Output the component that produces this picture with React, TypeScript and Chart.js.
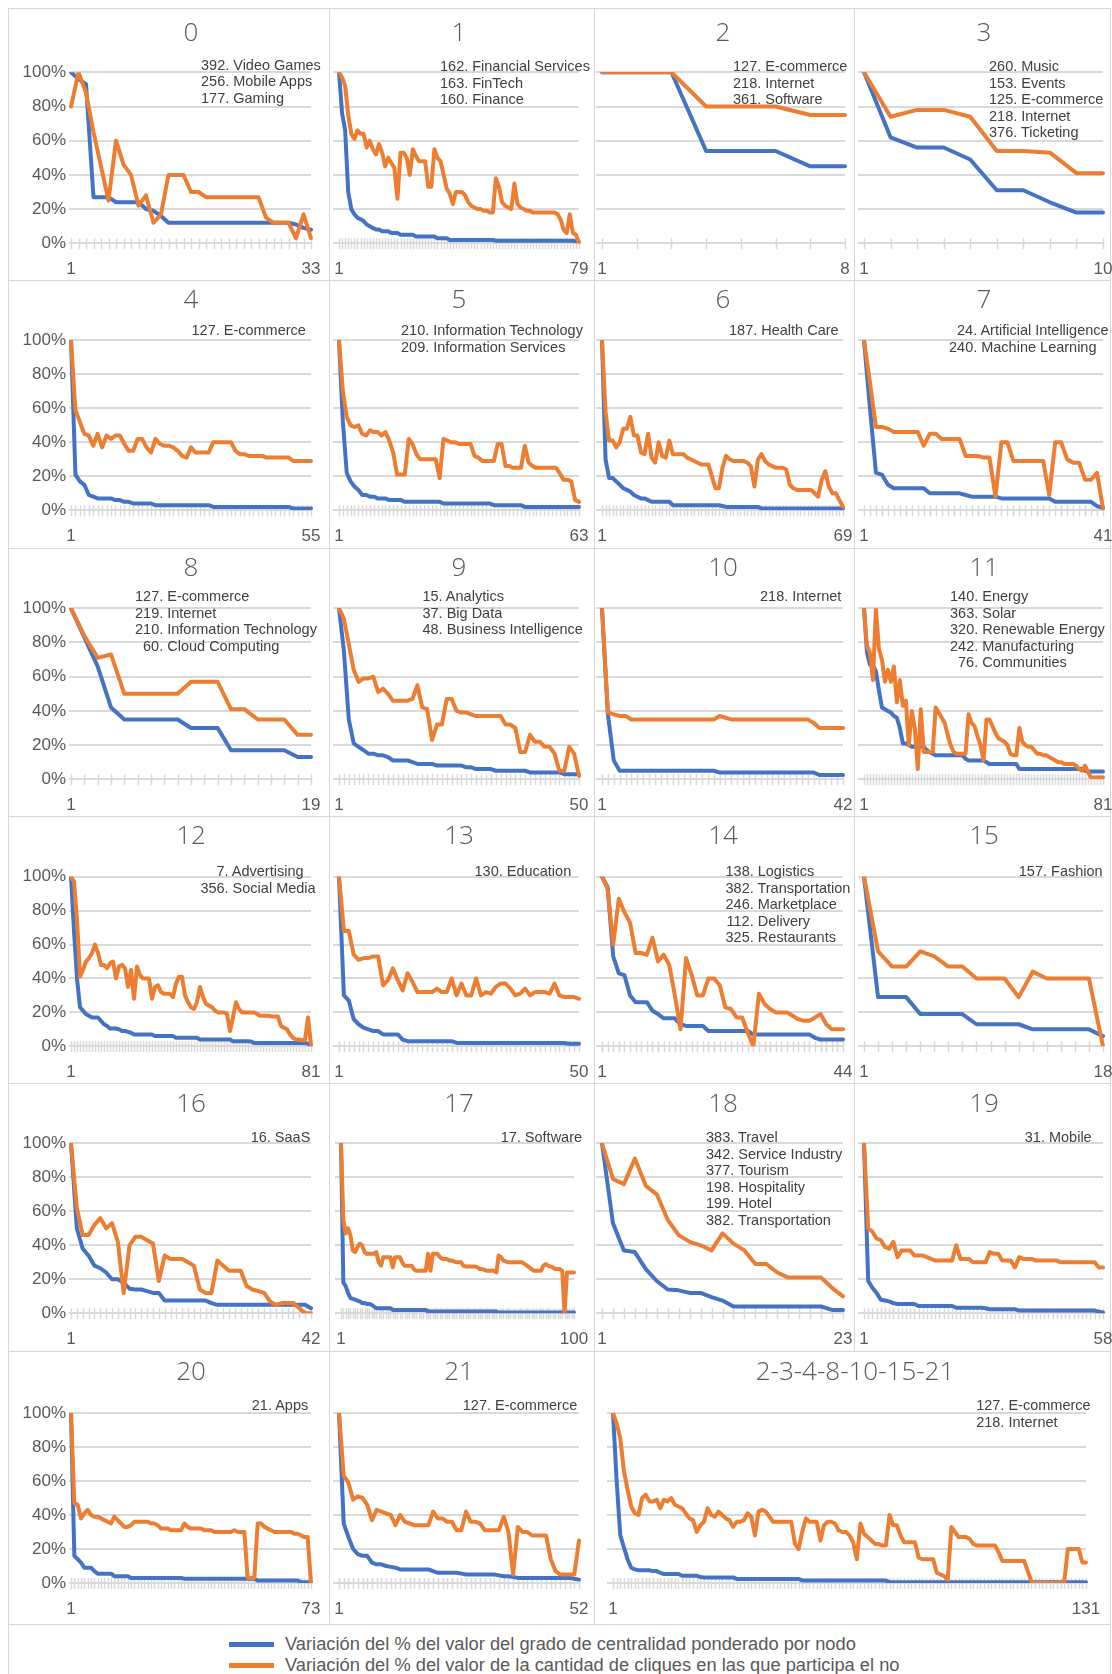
import React, { useEffect, useRef } from "react";
import { Chart, registerables } from "chart.js";
Chart.register(...registerables);

const BLUE = "#4472C4";
const ORANGE = "#ED7D31";
const GRID = "#D9D9D9";
const TEXT = "#595959";
const TAG_TEXT = "#404040";
const FONT = "'Liberation Sans', Arial, Helvetica, sans-serif";
const TITLE_FONT = "'Open Sans', 'Liberation Sans', sans-serif";

const yTickValues = [0, 20, 40, 60, 80, 100];

const legendLabels = [
  "Variación del % del valor del grado de centralidad ponderado por nodo",
  "Variación del % del valor de la cantidad de cliques en las que participa el no",
];

const panelTitles = [
  "0", "1", "2", "3", "4", "5", "6", "7", "8", "9", "10", "11",
  "12", "13", "14", "15", "16", "17", "18", "19", "20", "21", "2-3-4-8-10-15-21",
];

const panelTags = [
  ["392. Video Games", "256. Mobile Apps", "177. Gaming"],
  ["162. Financial Services", "163. FinTech", "160. Finance"],
  ["127. E-commerce", "218. Internet", "361. Software"],
  ["260. Music", "153. Events", "125. E-commerce", "218. Internet", "376. Ticketing"],
  ["127. E-commerce"],
  ["210. Information Technology", "209. Information Services"],
  ["187. Health Care"],
  ["24. Artificial Intelligence", "240. Machine Learning"],
  ["127. E-commerce", "219. Internet", "210. Information Technology", "60. Cloud Computing"],
  ["15. Analytics", "37. Big Data", "48. Business Intelligence"],
  ["218. Internet"],
  ["140. Energy", "363. Solar", "320. Renewable Energy", "242. Manufacturing", "76. Communities"],
  ["7. Advertising", "356. Social Media"],
  ["130. Education"],
  ["138. Logistics", "382. Transportation", "246. Marketplace", "112. Delivery", "325. Restaurants"],
  ["157. Fashion"],
  ["16. SaaS"],
  ["17. Software"],
  ["383. Travel", "342. Service Industry", "377. Tourism", "198. Hospitality", "199. Hotel", "382. Transportation"],
  ["31. Mobile"],
  ["21. Apps"],
  ["127. E-commerce"],
  ["127. E-commerce", "218. Internet"],
];

// ---- series values (percent) ----
const blue0 = [100,96,93,27,27,27,24,24,24,24,20,19,16,12,12,12,12,12,12,12,12,12,12,12,12,12,12,12,12,12,11,9,8];
const orange0 = [80,100,88,65,45,25,60,46,40,22,28,12,17,40,40,40,30,30,27,27,27,27,27,27,27,27,15,12,12,12,3,17,3];

const blue1 = [100,76,66,30,20,17,15,14,13,11,
  10,9,8,8,7,7,7,6,6,6,
  5,5,5,5,5,4,4,4,4,4,
  4,4,3,3,3,3,2,2,2,2,
  2,2,2,2,2,2,2,2,2,2,
  2,1.5,1.5,1.5,1.5,1.5,1.5,1.5,1.5,1.5,
  1.5,1.5,1.5,1.5,1.5,1.5,1.5,1.5,1.5,1.5,
  1.5,1.5,1.5,1.5,1.5,1.5,1.5,1,0.5];
const orange1 = [100,97,92,75,64,61,66,64,64,56,
  60,55,52,58,53,45,50,47,44,26,
  53,53,50,40,55,51,48,48,48,33,
  33,55,50,48,40,32,29,23,30,30,
  30,28,24,22,21,20,20,19,19,18,
  18,38,33,24,22,21,20,35,23,21,
  20,19,19,18,18,18,18,18,18,18,
  18,17,14,8,6,17,6,5,0];

const blue2 = [100,100,100,54,54,54,45,45];
const orange2 = [100,100,100,80,80,80,75,75];

const blue3 = [100,62,56,56,49,31,31,24,18,18];
const orange3 = [100,74,78,78,74,54,54,53,41,41];

const blue4 = [100,21,17,15,9,8,7,7,7,7,
  6,6,5,5,4,4,4,4,4,3,
  3,3,3,3,3,3,3,3,3,3,
  3,3,2,2,2,2,2,2,2,2,
  2,2,2,2,2,2,2,2,2,2,
  1,1,1,1,1];
const orange4 = [100,59,52,45,44,38,45,37,44,42,
  44,44,39,35,35,42,42,37,34,42,
  39,38,38,37,35,32,31,37,34,34,
  34,34,40,40,40,40,40,35,33,33,
  32,32,32,32,31,31,31,31,31,31,
  29,29,29,29,29];

const blue5 = [100,52,22,17,14,12,9,9,8,8,
  7,7,7,6,6,6,6,5,5,5,
  5,5,5,5,5,5,5,4,4,4,
  4,4,4,4,4,4,4,4,4,4,
  3,3,3,3,3,3,3,3,2,2,
  2,2,2,2,2,2,2,2,2,2,
  2,2,2];
const orange5 = [100,70,55,50,49,50,45,44,47,46,
  46,44,46,41,34,21,21,21,42,39,
  33,30,30,30,30,30,19,42,41,40,
  40,39,39,39,39,32,31,29,29,29,
  29,39,39,26,26,25,25,25,38,28,
  26,25,25,25,25,25,25,22,18,18,
  17,6,5];

const blue6 = [100,30,19,19,17,15,13,12,11,9,
  8,7,7,6,5,5,5,5,5,5,
  3,3,3,3,3,3,3,3,3,3,
  3,3,3,3,2.5,2,2,2,2,2,
  2,2,2,2,2,1,1,1,1,1,
  1,1,1,1,1,1,1,1,1,1,
  1,1,1,1,1,1,1,1,1];
const orange6 = [100,58,41,41,37,40,48,48,55,44,
  44,34,33,45,31,28,40,32,31,41,
  33,33,33,33,31,30,29,28,27,27,
  27,20,13,13,25,32,30,29,29,29,
  29,28,26,14,30,33,29,27,26,25,
  25,25,24,15,13,12,12,12,12,12,
  10,8,18,23,14,10,10,6,2];

const blue7 = [100,60,22,21,15,13,13,13,13,13,
  13,10,10,10,10,10,10,9,8,8,
  8,8,8,7,7,7,7,7,7,7,
  7,7,5,5,5,5,5,5,5,2.5,
  1.5];
const orange7 = [100,75,49,49,48,46,46,46,46,46,
  38,45,45,42,42,42,42,32,32,32,
  31,31,8,40,40,29,29,29,29,29,
  29,9,40,40,30,28,28,18,18,22,
  1];

const blue8 = [100,83,66,42,35,35,35,35,35,30,30,30,17,17,17,17,17,13,13];
const orange8 = [100,84,71,73,50,50,50,50,50,57,57,57,41,41,35,35,35,26,26];

const blue9 = [100,75,35,21,19,17,15,15,14,14,
  13,11,11,11,11,10,9,9,9,9,
  8,8,8,8,8,8,7,7,6,6,
  6,6,5,5,5,5,5,5,5,4,
  4,4,4,4,4,4,3,3,3,3];
const orange9 = [100,94,79,64,57,59,59,60,51,53,
  50,46,46,46,46,47,55,42,41,23,
  32,32,47,47,40,39,39,38,37,37,
  37,37,37,37,32,32,30,16,16,26,
  22,22,19,19,15,5,5,19,15,2];

const blue10 = [100,38,11,5,5,5,5,5,5,5,
  5,5,5,5,5,5,5,5,5,5,
  4,4,4,4,4,4,4,4,4,4,
  4,4,4,4,4,4,4,2.5,2.5,2.5,
  2.5,2.5];
const orange10 = [100,39,38,37,37,35,35,35,35,35,
  35,35,35,35,35,35,35,35,35,35,
  37,36,35,35,35,35,35,35,35,35,
  35,35,35,35,35,35,33,30,30,30,
  30,30];

const blue11 = [100,74,67,67,63,52,42,41,40,39,
  37,36,30,21,21,20,19,19,19,19,
  19,17,16,15,14,14,14,14,14,14,
  14,14,14,14,12,11,11,11,11,11,
  11,10,9,9,9,9,9,9,9,9,
  9,9,6,6,6,6,6,6,6,6,
  6,6,6,6,6,6,6,6,6,6,
  6,6,6,6,5,4.5,4.5,4.5,4.5,4.5,
  4.5];
const orange11 = [100,78,74,58,100,76,70,57,64,57,
  66,45,58,43,46,20,40,30,6,41,
  16,16,16,16,42,39,36,33,26,20,
  16,15,15,15,15,38,33,31,25,20,
  11,35,35,31,27,24,23,22,20,15,
  14,14,30,22,20,19,19,17,15,15,
  14,14,13,12,11,10,10,9,9,9,
  9,8,6,5,8,4,1,1,1,1,
  1];

const blue12 = [100,68,40,23,21,19,18,17,17,17,
  15,13,12,10.5,10.5,10.5,10,9,9,8.5,
  8,7,7,7,7,7,7,7,6,6,
  6,6,6,6,6,5,5,5,5,5,
  5,5,5,4,4,4,4,4,4,4,
  4,4,4,4,3,3,3,3,3,3,
  2.8,2,2,2,2,2,2,2,2,2,
  2,2,2,2,2,2,2,2,2,1.5,
  0.5];
const orange12 = [100,97,75,41,45,50,52,55,60,55,
  48,48,46,49,50,40,47,48,46,35,
  45,28,47,42,40,40,40,28,35,36,
  32,31,31,31,29,37,41,41,30,26,
  23,22,26,35,29,25,24,23,21,20,
  20,20,19,9,17,26,22,20,20,20,
  20,20,19,18,18,18,18,17.5,17.5,17.5,
  12,11,10,7,5,4,4,3.5,3.5,17,
  1];

const blue13 = [100,30,27,16,13,11,10,9,9,7,
  7,7,7,4,3,3,3,3,3,3,
  3,3,3,3,2,2,2,2,2,2,
  2,2,2,2,2,2,2,2,2,2,
  2,2,2,2,2,2,2,1.5,1.5,1.5];
const orange13 = [100,68,68,54,51,52,52,53,53,36,
  39,46,39,33,43,38,32,32,32,32,
  34,32,32,40,30,37,30,30,40,30,
  32,31,35,37,37,34,30,31,34,30,
  32,32,32,31,37,30,29,29,29,28];

const blue14 = [100,94,53,43,42,30,26,26,26,21,
  19,16.5,16.5,16.5,13,12,12,12,12,9,
  9,9,9,9,9,9,9,7,7,7,
  7,7,7,7,7,7,7,7,5,4,
  4,4,4,4];
const orange14 = [100,93,60,87,79,73,55,55,54,64,
  50,54,48,30,10,52,42,30,30,40,
  40,36,23,22,17,17,8,0,31,25,
  22,20,20,20,18,16,15,15,17,19,
  13,10,10,10];

const blue15 = [100,29,29,29,19,19,19,19,13,13,13,13,10,10,10,10,10,6];
const orange15 = [100,56,47,47,56,53,47,47,40,40,40,29,44,40,40,40,40,0];

const blue16 = [100,50,38,34,28,26.5,24,20,20,18,
  14.5,14,14,13,12,12,7.5,7.5,7.5,7.5,
  7.5,7.5,7.5,7.5,6,5,5,5,5,5,
  5,5,5,5,5,5,5,5,5,5,
  5,3];
const orange16 = [100,62,46,46,52,56,50,53,42,12,
  40,45,45,43,41,19,34,32,32,32,
  30,28,14,12,12,31,28,25,25,25,
  16,14,13,12,7,5,6,6,6,3,
  0,0];

const blue17 = [100,18,16,12,9,8.5,8,7.5,7,6,
  6,5.5,5.5,5,4,3,3,3,3,3,
  3,3,2,2,2,2,2,2,2,2,
  2,2,2,2,2,2,2,1,1,1,
  1,1,1,1,1,1,1,1,1,1,
  1,1,1,1,1,1,1,1,1,1,
  1,1,1,1,1,1,1,0.5,0.5,0.5,
  0.5,0.5,0.5,0.5,0.5,0.5,0.5,0.5,0.5,0.5,
  0.5,0.5,0.5,0.5,0.5,0.5,0.5,0.5,0.5,0.5,
  0.5,0.5,0.5,0.5,0.5,0.5,0.5,0.5,0.5,0.5];
const orange17 = [100,55,47,50,46,37,36,39,41,40,
  36,35,35,35,35,36,30,28,33,33,
  33,33,27,33,33,33,30,28,28,28,
  28,26,25,25,25,25,25,35,25,35,
  35,35,33,32,32,32,31,31,30.5,30,
  30,30,28,27.5,27.5,27.5,27.5,27.5,27,26,
  26,25.5,25,25,25,25,24,34,33,31,
  30.5,30,30,30,30,30,30,30,29,28,
  27,26,25,25,25,25,28,29,28,27.5,
  27,26,26,26,25,0,24,24,24,24];

const blue18 = [100,53,37,36,26,19,14,13.5,12,12,9.5,7.5,4,4,4,4,4,4,4,4,4,2,2];
const orange18 = [100,79,76,91,75,70,55,46,42,40,37,47,41,37,29,29,24,21,21,21,21,15,10];

const blue19 = [100,19,15,12,8,7.5,7,6,5.5,5.5,
  5.5,5.5,5.5,4.3,4.3,4.3,4.3,4.3,4.3,4.3,
  4.3,4.3,3.3,3.3,3.3,3.3,3.3,3.3,3.3,3,
  2.4,2.4,2.4,2.4,2.4,2.4,2.4,1.6,1.6,1.6,
  1.6,1.6,1.6,1.6,1.6,1.6,1.6,1.6,1.6,1.6,
  1.6,1.6,1.6,1.6,1.6,1.6,1,0.5];
const orange19 = [100,50,48,44,43,39,38,42,33,37,
  37,37,34,34,34,33,32,31,31,31,
  31,31,40,32,32,32,30,30,30,30,
  36,35,35,31,31,31,27,33,32,32,
  32,31,31,31,31,31,31,30,30,30,
  30,30,30,30,30,30,27,27];

const blue20 = [100,16,14,12,9,9,9,7,5.5,5.5,
  5.5,5.5,5.5,4,4,4,4,4,3,3,
  3,3,3,3,3,3,3,3,3,3,
  3,3,3,3,2.5,2.5,2.5,2.5,2.5,2.5,
  2.5,2.5,2.5,2.5,2.5,2.5,2.5,2.5,2.5,2.5,
  2.5,2.5,2.5,2.5,2.5,2.5,1.5,1.5,1.5,1.5,
  1.5,1.5,1.5,1.5,1.5,1.5,1.5,1.5,1.5,0.5,
  0.5,0.5,0.5];
const orange20 = [100,47,46,38,41,43,40,39,39,38,
  37,36,35,39,37,35,33,33,34,36,
  36,36,36,36,35,35,34,32,32,32,
  31,31,31,31,35,33,32,32,32,32,
  31,31,31,30,30,30,30,30,30,31,
  30,30,30,3,3,3,35,35,33,32,
  31,30,30,30,30,30,30,29,29,28,
  27,27,0];

const blue21 = [100,35,27,20,17,16,16,12,11,11,
  10,9.5,9,8,8,8,8,8,8,8,
  7,6,6,6,6,6,5.5,5,5,5,
  5,5,5,5,4.5,4,4,3.5,3,3,
  3,3,3,3,3,3,3,3,3,3,
  2.5,2];
const orange21 = [100,63,59,49,51,50,46,37,43,42,
  41,40,34,40,36,35,34,34,34,34,
  42,38,38,36,36,31,31,42,36,36,
  35,31,31,31,31,39,30,5,33,30,
  30,28,28,28,28,14,7,5,5,5,
  5,25];

const blue22 = [100,60,28,21,14,9,8,7.5,7.5,7.5,
  7.5,7,7,6,5.3,5.3,5.3,5.3,5.3,4.3,
  4.3,4.3,4.3,4.3,3.5,3.3,3.3,3.3,3.3,3.3,
  3.3,3.3,3.3,3.3,2.4,2.4,2.4,2.4,2.4,2.4,
  2.4,2.4,2.4,2.4,2.4,2.4,2.4,2.4,2.4,2.4,
  2.4,2.4,1.6,1.4,1.4,1.4,1.4,1.4,1.4,1.4,
  1.4,1.4,1.4,1.4,1.4,1.4,1.4,1.4,1.4,1.4,
  1.4,1.4,1.4,1.4,1.4,1.4,0.5,0.5,0.5,0.5,
  0.5,0.5,0.5,0.5,0.5,0.5,0.5,0.5,0.5,0.5,
  0.5,0.5,0.5,0.5,0.5,0.5,0.5,0.5,0.5,0.5,
  0.5,0.5,0.5,0.5,0.5,0.5,0.5,0.5,0.5,0.5,
  0.5,0.5,0.5,0.5,0.5,0.5,0.5,0.5,0.5,0.5,
  0.5,0.5,0.5,0.5,0.5,0.5,0.5,0.5,0.5,0.5,
  0.5];
const orange22 = [100,94,85,66,55,45,41,40,50,52,
  48,48,49,44,49,48,50,46,45,44,
  41,38,37,30,34,36,44,40,39,42,
  40,38,37,33,36,36,37,41,39,28,
  42,43,42,39,36,36,36,36,36,36,
  23,20,30,38,36,36,36,25,34,36,
  36,35,31,30,30,28,24,14,35,29,
  27,25,23,23,22,22,40,34,34,28,
  24,24,24,24,15,14,14,14,14,6,
  5,4,2,33,30,27,27,27,26,23,
  22,22,22,22,22,22,18,13,13,13,
  13,13,13,13,7,1,0,0,0,0,
  0,0,0,0,0,20,20,20,20,12,
  12];

const blueSeries = [blue0, blue1, blue2, blue3, blue4, blue5, blue6, blue7, blue8, blue9, blue10, blue11,
  blue12, blue13, blue14, blue15, blue16, blue17, blue18, blue19, blue20, blue21, blue22];
const orangeSeries = [orange0, orange1, orange2, orange3, orange4, orange5, orange6, orange7, orange8, orange9, orange10, orange11,
  orange12, orange13, orange14, orange15, orange16, orange17, orange18, orange19, orange20, orange21, orange22];

// ---- layout (pixels) ----
const COL_X = [8, 329, 594, 854, 1110];
const ROW_Y = [8, 280, 548, 816, 1083, 1351, 1624];
const PLOT_TOP = [72.3, 340.3, 608.3, 876.7, 1143.3, 1413];
const PLOT_BOTTOM = [243.3, 510.3, 779.3, 1046.3, 1313.3, 1583];
const TITLE_Y = [31.7, 298.7, 566.7, 834.7, 1102.7, 1370.7];
const TITLE_X = [191, 459, 723, 984];
const DATA_X: number[][] = [[71, 311], [339, 579], [602, 843], [864, 1103]];
const DATA_X_OVERRIDE: Record<number, number[]> = { 2: [602, 845], 17: [341, 574], 22: [613, 1086] };
const TAG_POS: number[][] = [
  [201, 65], [440, 66.7], [733, 66.7], [989, 66.7],
  [191.5, 330.3], [401, 330.3], [729, 330.3], [949, 330.3],
  [135, 596.7], [422.5, 596.7], [760, 596.7], [950, 596.7],
  [200.4, 871.3], [474.5, 871.3], [725.5, 871.3], [1018.8, 871.3],
  [250.7, 1137.3], [500.7, 1137.3], [706, 1137.3], [1024.8, 1137.3],
  [251.8, 1405.3], [462.8, 1405.3], [976.2, 1405.3],
];
const XAXIS_H = 34;

function panelGeom(idx: number) {
  const row = idx === 22 ? 5 : Math.floor(idx / 4);
  const col = idx === 22 ? 2 : idx % 4;
  const cellL = COL_X[col];
  const cellR = idx === 22 ? COL_X[4] : COL_X[col + 1];
  const cellT = ROW_Y[row];
  const cellB = ROW_Y[row + 1];
  const [xs, xe] = DATA_X_OVERRIDE[idx] || DATA_X[col];
  const titleX = idx === 22 ? 855 : TITLE_X[col];
  return { row, col, cellL, cellR, cellT, cellB, xs, xe, titleX };
}

const crossTicks = {
  id: "crossTicks",
  beforeDatasetsDraw(chart: any) {
    const x = chart.scales.x;
    const y = chart.scales.y;
    const y0 = y.getPixelForValue(0);
    const ctx = chart.ctx;
    ctx.save();
    ctx.strokeStyle = GRID;
    ctx.lineWidth = 1.5;
    ctx.beginPath();
    for (let i = 0; i < x.ticks.length; i++) {
      const px = Math.round(x.getPixelForTick(i)) + 0.5;
      ctx.moveTo(px, y0 - 5);
      ctx.lineTo(px, y0 + 6);
    }
    ctx.stroke();
    ctx.restore();
  },
};

function Panel({ idx }: { idx: number }) {
  const ref = useRef<HTMLCanvasElement>(null);
  const g = panelGeom(idx);
  const canvasL = g.cellL;
  const canvasR = g.cellR + 14;
  const w = canvasR - canvasL;
  const h = g.cellB - g.cellT;

  useEffect(() => {
    const blue = blueSeries[idx];
    const orange = orangeSeries[idx];
    const labels = blue.map((_, i) => String(i + 1));
    const isFirstCol = g.col === 0;
    const chart = new Chart(ref.current as HTMLCanvasElement, {
      type: "line",
      data: {
        labels,
        datasets: [
          { label: legendLabels[0], data: blue, borderColor: BLUE, backgroundColor: BLUE, order: 2 },
          { label: legendLabels[1], data: orange, borderColor: ORANGE, backgroundColor: ORANGE, order: 1 },
        ],
      },
      options: {
        animation: false,
        responsive: false,
        devicePixelRatio: 1,
        events: [],
        layout: {
          padding: {
            left: 0,
            right: canvasR - g.xe,
            top: PLOT_TOP[g.row] - g.cellT,
            bottom: g.cellB - PLOT_BOTTOM[g.row] - XAXIS_H,
          },
        },
        plugins: { legend: { display: false }, tooltip: { enabled: false } },
        elements: {
          point: { radius: 0 },
          line: { tension: 0, borderWidth: 4, borderJoinStyle: "round", borderCapStyle: "round" },
        },
        scales: {
          x: {
            type: "category",
            offset: false,
            border: { display: false },
            grid: {
              display: true,
              drawOnChartArea: false,
              drawTicks: true,
              tickLength: 16,
              tickColor: "rgba(0,0,0,0)",
              color: "rgba(0,0,0,0)",
            },
            ticks: {
              autoSkip: false,
              maxRotation: 0,
              minRotation: 0,
              padding: 0,
              color: TEXT,
              font: { size: 17, family: FONT },
              callback: (_v: any, i: number, t: any[]) => (i === 0 || i === t.length - 1 ? labels[i] : ""),
            },
            afterFit: (s: any) => {
              s.height = XAXIS_H;
            },
          },
          y: {
            min: yTickValues[0],
            max: yTickValues[yTickValues.length - 1],
            border: { display: false },
            grid: {
              color: GRID,
              lineWidth: 2,
              drawTicks: true,
              tickLength: isFirstCol ? 2 : 6,
              tickColor: GRID,
            },
            ticks: {
              display: isFirstCol,
              stepSize: 20,
              padding: 3,
              color: TEXT,
              font: { size: 17, family: FONT },
              callback: (v: any) => `${v}%`,
            },
            afterFit: (s: any) => {
              s.width = g.xs - canvasL;
            },
          },
        },
      } as any,
      plugins: [crossTicks],
    });
    return () => chart.destroy();
  }, []);

  return (
    <canvas
      ref={ref}
      width={w}
      height={h}
      style={{ position: "absolute", left: canvasL, top: g.cellT, width: w, height: h }}
    />
  );
}

function Title({ idx }: { idx: number }) {
  const g = panelGeom(idx);
  return (
    <div
      style={{
        position: "absolute",
        left: g.titleX - 150,
        width: 300,
        top: TITLE_Y[g.row] - 19,
        height: 36,
        lineHeight: "36px",
        textAlign: "center",
        fontFamily: TITLE_FONT,
        fontSize: 26,
        fontWeight: 300,
        color: TEXT,
        whiteSpace: "nowrap",
      }}
    >
      {panelTitles[idx]}
    </div>
  );
}

function Tags({ idx }: { idx: number }) {
  const tags = panelTags[idx];
  const [x, y] = TAG_POS[idx];
  const digits = Math.max(...tags.map((t) => t.indexOf(".")));
  return (
    <div
      style={{
        position: "absolute",
        left: x,
        top: y - 8.25,
        fontFamily: FONT,
        fontSize: 14.5,
        lineHeight: "16.5px",
        color: TAG_TEXT,
        whiteSpace: "nowrap",
      }}
    >
      {tags.map((t, i) => {
        const k = t.indexOf(".");
        return (
          <div key={i}>
            <span style={{ display: "inline-block", width: `${digits * 0.556}em`, textAlign: "right" }}>
              {t.slice(0, k)}
            </span>
            {t.slice(k)}
          </div>
        );
      })}
    </div>
  );
}

function Line({ x, y, w, h }: { x: number; y: number; w: number; h: number }) {
  return <div style={{ position: "absolute", left: x, top: y, width: w, height: h, background: "#D6D6D6" }} />;
}

export default function App() {
  const idxs = Array.from({ length: 23 }, (_, i) => i);
  return (
    <div
      style={{
        position: "absolute",
        left: 0,
        top: 0,
        width: 1112,
        height: 1674,
        overflow: "hidden",
        background: "#FFFFFF",
      }}
    >
      {/* cell borders */}
      {ROW_Y.map((y) => (
        <Line key={"h" + y} x={8} y={y} w={1102} h={1} />
      ))}
      <Line x={8} y={8} w={1} h={1666} />
      <Line x={1110} y={8} w={1} h={1666} />
      <Line x={329} y={8} w={1} h={1616} />
      <Line x={594} y={8} w={1} h={1616} />
      <Line x={854} y={8} w={1} h={1343} />

      {idxs.map((i) => (
        <Panel key={"p" + i} idx={i} />
      ))}
      {idxs.map((i) => (
        <Title key={"t" + i} idx={i} />
      ))}
      {idxs.map((i) => (
        <Tags key={"g" + i} idx={i} />
      ))}

      {/* legend */}
      <div style={{ position: "absolute", left: 229, top: 1641.5, width: 45, height: 5, background: BLUE }} />
      <div style={{ position: "absolute", left: 229, top: 1662.8, width: 45, height: 5, background: ORANGE }} />
      {legendLabels.map((t, i) => (
        <div
          key={t}
          style={{
            position: "absolute",
            left: 285,
            top: (i === 0 ? 1644 : 1665.3) - 11,
            height: 22,
            lineHeight: "22px",
            fontFamily: FONT,
            fontSize: 18.3,
            color: TEXT,
            whiteSpace: "nowrap",
          }}
        >
          {t}
        </div>
      ))}
    </div>
  );
}
